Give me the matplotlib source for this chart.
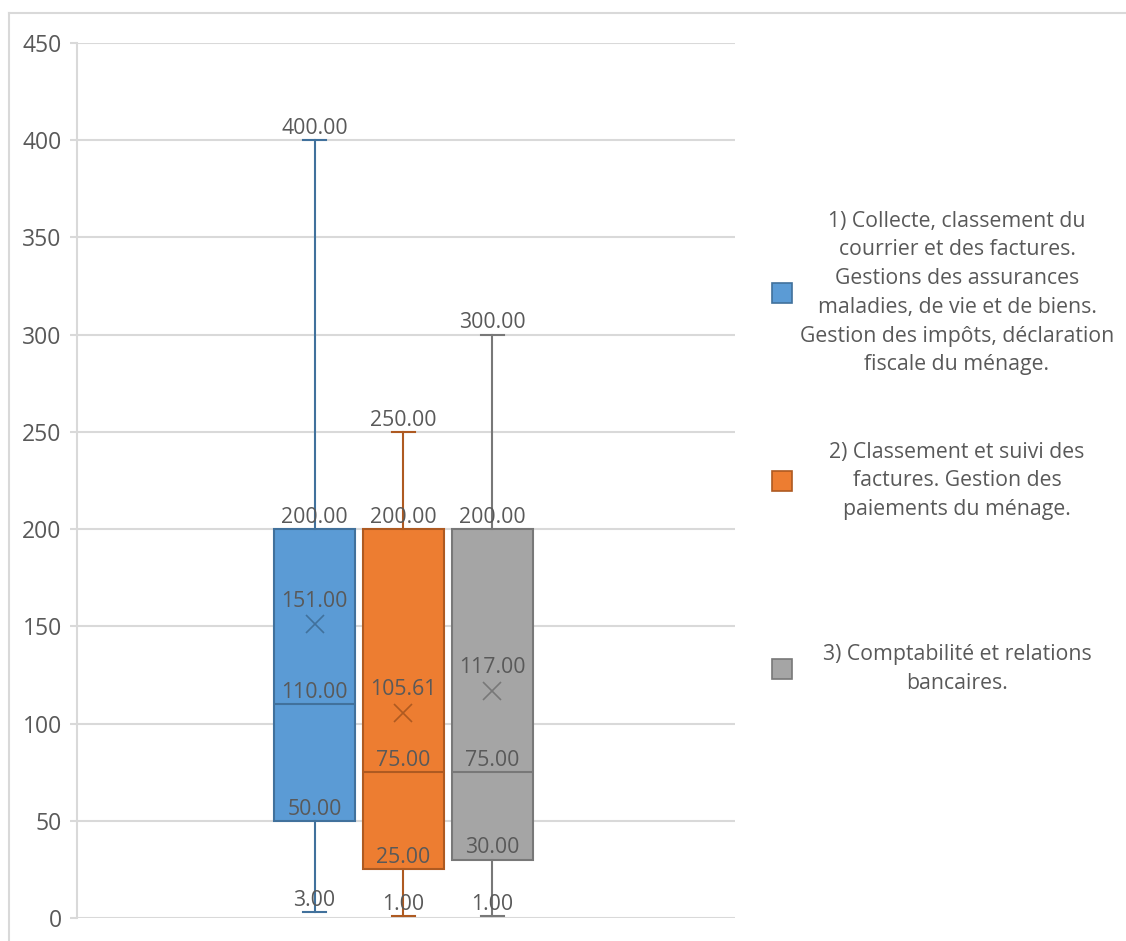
import matplotlib
matplotlib.use('Agg')
import matplotlib.pyplot as plt
from matplotlib.patches import Rectangle
from matplotlib.lines import Line2D

plt.rcParams['font.family'] = ['Open Sans', 'DejaVu Sans']

# box statistics
series = ['1) Collecte, classement du\ncourrier et des factures.\nGestions des assurances\nmaladies, de vie et de biens.\nGestion des impôts, déclaration\nfiscale du ménage.',
          '2) Classement et suivi des\nfactures. Gestion des\npaiements du ménage.',
          '3) Comptabilité et relations\nbancaires.']
mins = [3.00, 1.00, 1.00]
q1s = [50.00, 25.00, 30.00]
medians = [110.00, 75.00, 75.00]
q3s = [200.00, 200.00, 200.00]
maxs = [400.00, 250.00, 300.00]
means = [151.00, 105.61, 117.00]

fills = ['#5B9BD5', '#ED7D31', '#A5A5A5']
edges = ['#41719C', '#AE5A21', '#787878']
text_col = '#595959'
grid_col = '#D9D9D9'
fs = 15.3

fig = plt.figure(figsize=(11.26, 9.41), dpi=100)
ax = fig.add_axes([77 / 1126, 23 / 941, 658 / 1126, 875 / 941])

# outer chart border (top and left edges only are in view)
x0, y0 = 8.5 / 1126, 1 - 12.5 / 941
fig.add_artist(Line2D([x0, 1.0], [y0, y0], transform=fig.transFigure,
                      color=grid_col, linewidth=1.5))
fig.add_artist(Line2D([x0, x0], [0, y0], transform=fig.transFigure,
                      color=grid_col, linewidth=1.5))

positions = [0.361, 0.496, 0.631]
width = 0.123

for i in range(3):
    st = [{'whislo': mins[i], 'q1': q1s[i], 'med': medians[i], 'q3': q3s[i],
           'whishi': maxs[i], 'mean': means[i], 'fliers': []}]
    ax.bxp(st, positions=[positions[i]], widths=width, patch_artist=True,
           showmeans=True, capwidths=0.035,
           boxprops=dict(facecolor=fills[i], edgecolor=edges[i], linewidth=1.5),
           whiskerprops=dict(color=edges[i], linewidth=1.5),
           capprops=dict(color=edges[i], linewidth=1.5),
           medianprops=dict(color=edges[i], linewidth=1.5),
           meanprops=dict(marker='x', markeredgecolor=edges[i], markersize=13,
                          markeredgewidth=1.2),
           zorder=3)

    for v in [mins[i], q1s[i], medians[i], q3s[i], maxs[i]]:
        ax.annotate(f'{v:.2f}', (positions[i], v), xytext=(0, 4.5),
                    textcoords='offset points', ha='center', va='baseline',
                    fontsize=fs, color=text_col, zorder=5)
    ax.annotate(f'{means[i]:.2f}', (positions[i], means[i]), xytext=(0, 12.5),
                textcoords='offset points', ha='center', va='baseline',
                fontsize=fs, color=text_col, zorder=5)

ax.set_xlim(0, 1)
ax.set_ylim(0, 450)
ax.set_yticks(range(0, 451, 50))
ax.set_xticks([])
ax.yaxis.grid(True, color=grid_col, linewidth=1.5)
ax.set_axisbelow(True)
for s in ['top', 'right', 'bottom']:
    ax.spines[s].set_visible(False)
ax.spines['left'].set_color(grid_col)
ax.spines['left'].set_linewidth(1.5)
ax.tick_params(axis='y', length=5, width=1.5, color=grid_col, labelsize=16.5,
               labelcolor=text_col, pad=6)

# legend drawn by hand so the labels can be centred
legend_y = [293, 481, 669]
for i in range(3):
    y = 1 - legend_y[i] / 941
    fig.add_artist(Rectangle((772 / 1126, y - 10 / 941), 20 / 1126, 20 / 941,
                             transform=fig.transFigure, facecolor=fills[i],
                             edgecolor=edges[i], linewidth=1.2))
    fig.text(957 / 1126, y, series[i], ha='center', va='center',
             multialignment='center', fontsize=fs, color=text_col,
             linespacing=1.48)

fig.savefig('out.png', dpi=100)
